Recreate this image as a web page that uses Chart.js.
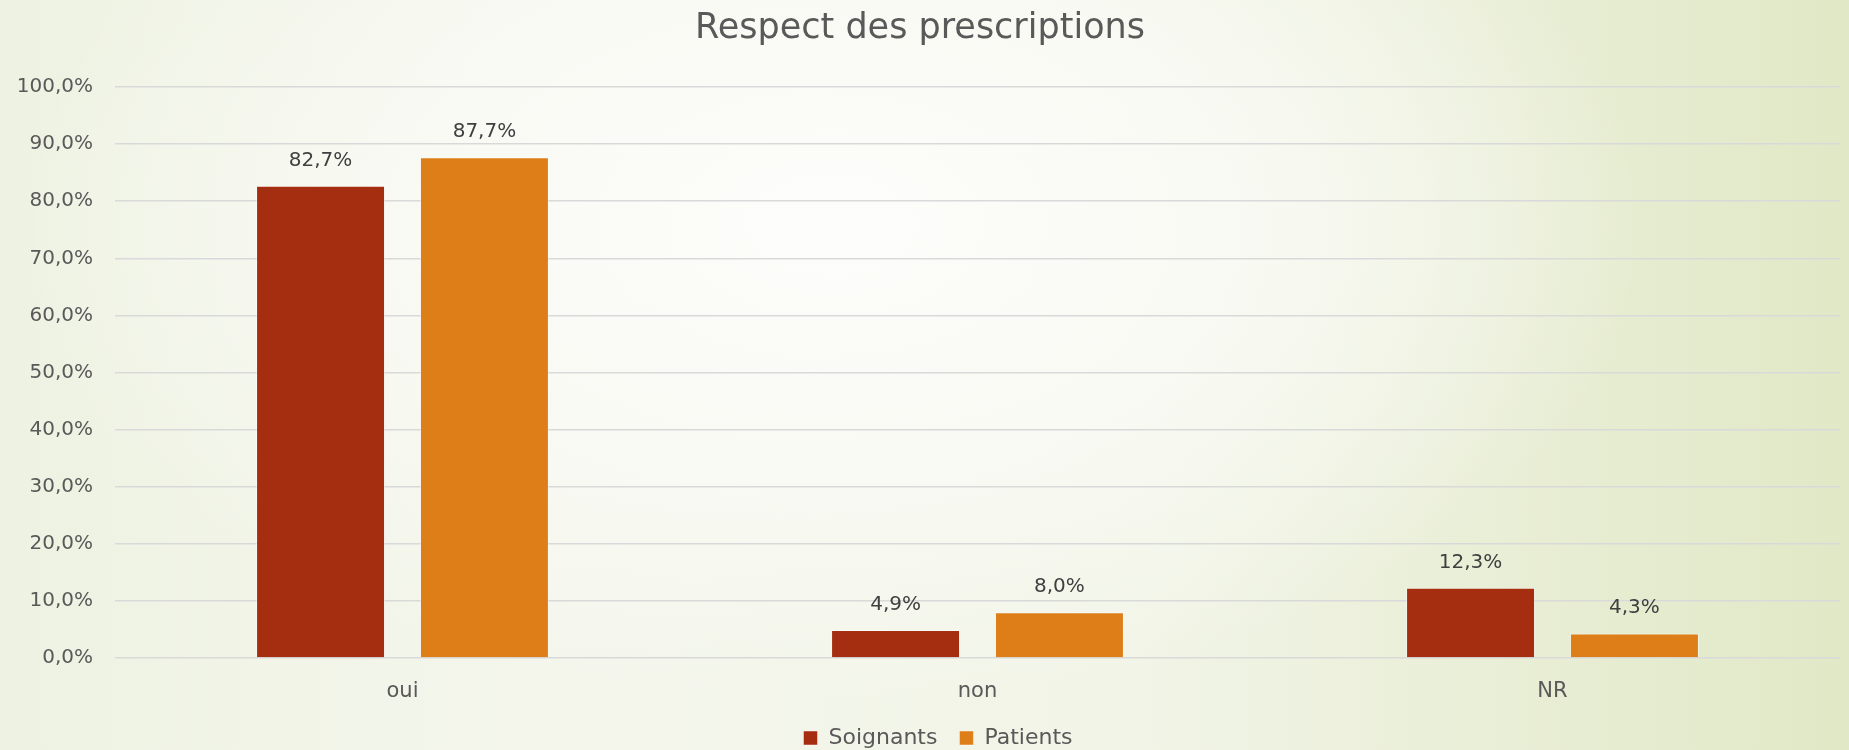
<!DOCTYPE html>
<html>
<head>
<meta charset="utf-8">
<script src="https://cdn.jsdelivr.net/npm/chart.js@4.4.0/dist/chart.umd.min.js"></script>
<style>
  html, body { margin: 0; padding: 0; }
  body {
    width: 1849px; height: 750px; overflow: hidden;
    background:
      radial-gradient(ellipse 55% 80% at 45% 30%, rgba(253,253,251,1) 0%, rgba(249,250,244,0.85) 45%, rgba(245,247,237,0) 80%),
      linear-gradient(90deg, #eef2e2 0%, #f4f6ec 30%, #f1f4e6 62%, #e1e8c6 100%);
  }
  #wrap { width: 1849px; height: 750px; }
</style>
</head>
<body>
<div id="wrap"><canvas id="chart"></canvas></div>
<script>
// données du graphique
const categories = ['oui', 'non', 'NR'];
const soignants = [82.7, 4.9, 12.3];
const patients = [87.7, 8.0, 4.3];
const seriesNames = ['Soignants', 'Patients'];
const seriesColors = ['#a52d10', '#de7e19'];

const FONT = "'DejaVu Sans', sans-serif";

function pct(v) {
  return v.toFixed(1).replace('.', ',') + '%';
}

// étiquettes de valeurs au-dessus des barres
const valueLabels = {
  id: 'valueLabels',
  afterDatasetsDraw(chart) {
    const ctx = chart.ctx;
    ctx.save();
    ctx.font = '20px ' + FONT;
    ctx.fillStyle = '#404040';
    ctx.textAlign = 'center';
    ctx.textBaseline = 'alphabetic';
    chart.data.datasets.forEach((ds, i) => {
      const meta = chart.getDatasetMeta(i);
      meta.data.forEach((bar, j) => {
        ctx.fillText(pct(ds.data[j]), bar.x, bar.y - 20);
      });
    });
    ctx.restore();
  }
};

// légende plus compacte et collée en bas
const legendShift = {
  id: 'legendShift',
  afterInit(chart) {
    const lg = chart.legend;
    if (!lg) return;
    const fit = lg.fit;
    lg.fit = function () {
      fit.call(this);
      this.height = 26;
    };
  },
  afterLayout(chart) {
    const lg = chart.legend;
    if (!lg) return;
    lg.top = 705;
    lg.bottom = 750;
    lg.height = 45;
    lg.left += 18;
    lg.right += 18;
  }
};

new Chart(document.getElementById('chart'), {
  type: 'bar',
  data: {
    labels: categories,
    datasets: [
      { label: seriesNames[0], data: soignants, backgroundColor: seriesColors[0], borderColor: 'rgba(255,255,255,0.45)', borderWidth: 1 },
      { label: seriesNames[1], data: patients, backgroundColor: seriesColors[1], borderColor: 'rgba(255,255,255,0.45)', borderWidth: 1 }
    ]
  },
  options: {
    responsive: true,
    maintainAspectRatio: false,
    animation: false,
    devicePixelRatio: 1,
    layout: { padding: { left: 0, right: 9, top: 0, bottom: 0 } },
    datasets: { bar: { categoryPercentage: 0.57, barPercentage: 0.787 } },
    plugins: {
      title: {
        display: true,
        text: 'Respect des prescriptions',
        color: '#595959',
        font: { family: FONT, size: 35, weight: 'normal' },
        padding: { top: 8, bottom: 37 }
      },
      legend: {
        display: true,
        position: 'bottom',
        labels: {
          color: '#595959',
          font: { family: FONT, size: 22 },
          boxWidth: 14,
          boxHeight: 14,
          padding: 22
        }
      },
      tooltip: { enabled: false }
    },
    scales: {
      x: {
        grid: { display: false, drawTicks: false },
        border: { display: false },
        ticks: { color: '#595959', font: { family: FONT, size: 21 }, padding: 21 },
        afterFit(scale) { scale.height = 66; }
      },
      y: {
        min: 0,
        max: 100,
        grid: { color: '#d9d9d9', lineWidth: 1.5, drawTicks: false },
        border: { display: false },
        ticks: {
          stepSize: 10,
          color: '#595959',
          font: { family: FONT, size: 20 },
          padding: 22,
          callback: v => pct(v)
        },
        afterFit(scale) { scale.width = 115; }
      }
    }
  },
  plugins: [valueLabels, legendShift]
});
</script>
</body>
</html>
